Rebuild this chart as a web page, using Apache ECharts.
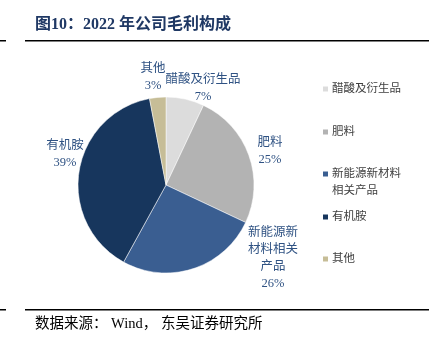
<!DOCTYPE html>
<html>
<head>
<meta charset="utf-8">
<script src="https://cdn.jsdelivr.net/npm/echarts@6/dist/echarts.min.js"></script>
<style>
html,body{margin:0;padding:0;background:#fff;}
#c{width:429px;height:351px;}
</style>
</head>
<body>
<div id="c"></div>
<script>
const categories = ['醋酸及衍生品', '肥料', '新能源新材料相关产品', '有机胺', '其他'];
const legendNames = ['醋酸及衍生品', '肥料', '\n新能源新材料\n相关产品', '有机胺', '其他'];
const labelNames = ['醋酸及衍生品', '肥料', '新能源新\n材料相关\n产品', '有机胺', '其他'];
const values = [7, 25, 26, 39, 3];
const colors = ['#dcdcdc', '#b3b3b3', '#3a5e91', '#17365d', '#c6bd97'];

const titleText = '图10：2022 年公司毛利构成';
const sourceText = '数据来源： Wind， 东吴证券研究所';

const labelPos = [[203, 88], [270, 151], [273, 258], [65, 154], [153, 77]];
const legendCenters = [84, 127, 169, 212, 254];

const chart = echarts.init(document.getElementById('c'), null, {renderer: 'canvas'});

const serif = '"Liberation Serif", "Noto Sans CJK SC", serif';
const LH = 17;

const legends = legendNames.map((n, i) => {
  const lines = n.split('\n').length;
  return {
    left: 316,
    top: legendCenters[i] - lines * LH / 2,
    orient: 'vertical',
    itemWidth: 7,
    itemHeight: 7,
    icon: 'rect',
    selectedMode: false,
    data: [{name: categories[i]}],
    formatter: () => n,
    textStyle: {fontFamily: serif, fontSize: 11.5, color: '#404040', lineHeight: LH, padding: [0, 0, 0, -2]}
  };
});

chart.setOption({
  animation: false,
  color: colors,
  legend: legends,
  graphic: [
    {type: 'text', left: 35, top: 17, style: {text: titleText, font: 'bold 16px ' + serif, fill: '#1f3864'}},
    {type: 'rect', shape: {x: 0, y: 40, width: 6, height: 1.5}, style: {fill: '#000'}},
    {type: 'rect', shape: {x: 25, y: 40, width: 404, height: 1.5}, style: {fill: '#000'}},
    {type: 'rect', shape: {x: 0, y: 309, width: 6, height: 1.5}, style: {fill: '#000'}},
    {type: 'rect', shape: {x: 25, y: 309, width: 404, height: 1.5}, style: {fill: '#000'}},
    {type: 'text', left: 35, top: 317, style: {text: sourceText, font: '14.5px ' + serif, fill: '#000'}}
  ],
  series: [{
    type: 'pie',
    center: [166, 185],
    radius: 88,
    startAngle: 90,
    clockwise: true,
    itemStyle: {borderColor: '#ffffff', borderWidth: 0.5},
    data: values.map((v, i) => ({name: categories[i], value: v})),
    label: {
      show: true,
      position: 'outside',
      overflow: 'none',
      width: 120,
      formatter: p => labelNames[p.dataIndex] + '\n' + values[p.dataIndex] + '%',
      fontFamily: serif,
      fontSize: 12.5,
      lineHeight: 17,
      color: '#2f5283',
      align: 'center'
    },
    labelLine: {show: false},
    labelLayout: p => ({
      x: labelPos[p.dataIndex][0],
      y: labelPos[p.dataIndex][1],
      align: 'center',
      verticalAlign: 'middle'
    })
  }]
});
</script>
</body>
</html>
